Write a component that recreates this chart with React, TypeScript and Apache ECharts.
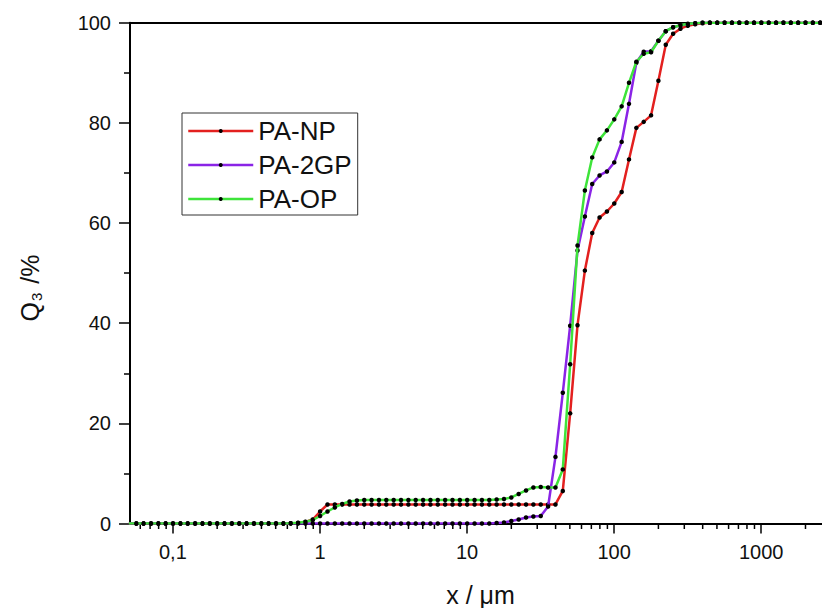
import React, { useEffect, useRef } from 'react';
import * as echarts from 'echarts';

// particle size classes x / µm
const sizes = [
  0.0502, 0.0564, 0.0632, 0.071, 0.0796, 0.0893, 0.1002, 0.1125, 0.1262, 0.1416,
  0.1589, 0.1783, 0.2, 0.2244, 0.2518, 0.2825, 0.317, 0.3557, 0.3991, 0.4477,
  0.5024, 0.5637, 0.6325, 0.7096, 0.7962, 0.8934, 1.002, 1.125, 1.262, 1.416,
  1.589, 1.783, 2.0, 2.244, 2.518, 2.825, 3.17, 3.557, 3.991, 4.477,
  5.024, 5.637, 6.325, 7.096, 7.962, 8.934, 10.02, 11.25, 12.62, 14.16,
  15.89, 17.83, 20.0, 22.44, 25.18, 28.25, 31.7, 35.57, 39.91, 44.77,
  50.24, 56.37, 63.25, 70.96, 79.62, 89.34, 100.2, 112.5, 126.2, 141.6,
  158.9, 178.3, 200.0, 224.4, 251.8, 282.5, 317.0, 355.7, 399.1, 447.7,
  502.4, 563.7, 632.5, 709.6, 796.2, 893.4, 1002, 1125, 1262, 1416,
  1589, 1783, 2000, 2244, 2518, 2825,
];

const paNP = [
  0, 0, 0, 0, 0, 0, 0, 0, 0, 0,
  0, 0, 0, 0, 0, 0, 0, 0, 0, 0,
  0, 0, 0.05, 0.1, 0.3, 0.8, 2.4, 3.8, 3.8, 3.8,
  3.8, 3.8, 3.8, 3.8, 3.8, 3.8, 3.8, 3.8, 3.8, 3.8,
  3.8, 3.8, 3.8, 3.8, 3.8, 3.8, 3.8, 3.8, 3.8, 3.8,
  3.8, 3.8, 3.8, 3.8, 3.8, 3.8, 3.8, 3.8, 3.8, 6.5,
  22.0, 39.6, 50.5, 58.0, 61.1, 62.3, 63.9, 66.2, 72.7, 79.0,
  80.2, 81.5, 88.4, 95.6, 97.8, 98.8, 99.4, 99.7, 99.9, 100,
  100, 100, 100, 100, 100, 100, 100, 100, 100, 100,
  100, 100, 100, 100, 100, 100,
];

const pa2GP = [
  0, 0, 0, 0, 0, 0, 0, 0, 0, 0,
  0, 0, 0, 0, 0, 0, 0, 0, 0, 0,
  0, 0, 0, 0, 0, 0, 0, 0, 0, 0,
  0, 0, 0, 0, 0, 0, 0, 0, 0, 0,
  0, 0, 0, 0, 0, 0, 0, 0, 0, 0,
  0.1, 0.2, 0.5, 0.8, 1.2, 1.4, 1.5, 3.4, 13.3, 26.1,
  39.5, 54.5, 61.3, 67.8, 69.5, 70.3, 72.1, 76.2, 83.8, 92.0,
  94.2, 94.3, 96.4, 98.3, 99.1, 99.5, 99.7, 99.9, 100, 100,
  100, 100, 100, 100, 100, 100, 100, 100, 100, 100,
  100, 100, 100, 100, 100, 100,
];

const paOP = [
  0, 0, 0, 0, 0, 0, 0, 0, 0, 0,
  0, 0, 0, 0, 0, 0, 0, 0, 0, 0,
  0, 0, 0.05, 0.15, 0.35, 0.7, 1.5, 2.4, 3.2, 3.9,
  4.4, 4.6, 4.7, 4.7, 4.7, 4.7, 4.7, 4.7, 4.7, 4.7,
  4.7, 4.7, 4.7, 4.7, 4.7, 4.7, 4.7, 4.7, 4.7, 4.7,
  4.8, 4.9, 5.2, 5.9, 6.6, 7.2, 7.3, 7.2, 7.2, 10.8,
  31.8, 55.5, 66.5, 73.1, 76.7, 78.5, 80.7, 83.3, 88.0, 92.2,
  93.8, 94.1, 96.4, 98.3, 99.1, 99.5, 99.8, 99.9, 100, 100,
  100, 100, 100, 100, 100, 100, 100, 100, 100, 100,
  100, 100, 100, 100, 100, 100,
];

const seriesNames = ['PA-NP', 'PA-2GP', 'PA-OP'];
const seriesColors = ['#e3201f', '#8a24e6', '#3ee43a'];

const xTickValues = [0.1, 1, 10, 100, 1000];
const xTickLabels = ['0,1', '1', '10', '100', '1000'];
const xMinorTicks = [
  0.06, 0.07, 0.08, 0.09,
  0.2, 0.3, 0.4, 0.5, 0.6, 0.7, 0.8, 0.9,
  2, 3, 4, 5, 6, 7, 8, 9,
  20, 30, 40, 50, 60, 70, 80, 90,
  200, 300, 400, 500, 600, 700, 800, 900,
  2000,
];

const X_MIN = 0.0511;
const X_MAX = 2590;
const FONT = 'Liberation Sans, Arial, sans-serif';

export default function App() {
  const ref = useRef<HTMLDivElement>(null);

  useEffect(() => {
    if (!ref.current) return;
    const chart = echarts.init(ref.current, null, { renderer: 'svg' });
    const dataSets = [paNP, pa2GP, paOP];

    const lineSeries = dataSets.map((vals, si) => ({
      name: seriesNames[si],
      type: 'line',
      data: sizes.map((x, i) => [x, vals[i]]),
      symbol: 'circle',
      symbolSize: 4.5,
      showSymbol: true,
      showAllSymbol: true,
      itemStyle: { color: '#000' },
      lineStyle: { color: seriesColors[si], width: 2.5 },
      z: 3 + si,
    }));

    const option: any = {
      animation: false,
      backgroundColor: '#fff',
      grid: { left: 130, right: 0, top: 22.7, bottom: 84.5, containLabel: false, outerBoundsMode: 'none' },
      legend: {
        data: seriesNames.map((n, i) => ({
          name: n,
          lineStyle: { color: seriesColors[i], width: 2.5 },
          itemStyle: { color: '#000' },
        })),
        orient: 'vertical',
        left: 182,
        top: 113,
        itemWidth: 65,
        itemHeight: 5,
        itemGap: 8,
        padding: [5, 6, 3, 5],
        borderColor: '#333',
        borderWidth: 1,
        textStyle: { fontSize: 26, lineHeight: 25, color: '#111', fontFamily: FONT },
      },
      xAxis: [
        {
          type: 'log',
          logBase: 10,
          min: X_MIN,
          max: X_MAX,
          position: 'bottom',
          axisLine: { onZero: false, lineStyle: { color: '#000', width: 2 } },
          axisTick: { length: 10, lineStyle: { color: '#000', width: 1.5 } },
          axisLabel: {
            showMinLabel: false,
            showMaxLabel: false,
            fontSize: 20,
            color: '#111',
            fontFamily: FONT,
            margin: 18,
            formatter: (v: number) => {
              const idx = xTickValues.findIndex(
                (t) => Math.abs(Math.log10(v) - Math.log10(t)) < 1e-6
              );
              return idx >= 0 ? xTickLabels[idx] : '';
            },
          },
          splitLine: { show: false },
          minorTick: { show: false },
          name: 'x / μm',
          nameLocation: 'middle',
          nameGap: 59,
          nameTextStyle: { fontSize: 25, color: '#111', fontFamily: FONT, padding: [0, 0, 0, 9] },
        },
        {
          type: 'log',
          logBase: 10,
          min: X_MIN,
          max: X_MAX,
          position: 'top',
          axisLine: { onZero: false, lineStyle: { color: '#000', width: 2 } },
          axisTick: { show: false },
          axisLabel: { show: false },
          splitLine: { show: false },
        },
      ],
      yAxis: {
        type: 'value',
        min: 0,
        max: 100,
        interval: 20,
        axisLine: { show: true, lineStyle: { color: '#000', width: 2 } },
        axisTick: { show: true, length: 11, lineStyle: { color: '#000', width: 1.5 } },
        minorTick: { show: true, splitNumber: 2, length: 6, lineStyle: { color: '#000', width: 1.5 } },
        axisLabel: { fontSize: 20, color: '#111', fontFamily: FONT, margin: 19 },
        splitLine: { show: false },
        name: '{q|Q}{s|3}{q| /%}',
        nameLocation: 'middle',
        nameGap: 86,
        nameTextStyle: {
          color: '#111',
          fontFamily: FONT,
          padding: [0, 30, 0, 0],
          rich: {
            q: { fontSize: 25, color: '#111', fontFamily: FONT },
            s: { fontSize: 15, color: '#111', fontFamily: FONT, padding: [14, 2, 0, 1] },
          },
        },
      },
      series: [
        ...lineSeries,
        {
          type: 'custom',
          name: 'minorTicks',
          xAxisIndex: 0,
          yAxisIndex: 0,
          clip: false,
          silent: true,
          data: xMinorTicks.map((v) => [v, 0]),
          renderItem: (params: any, api: any) => {
            const p = api.coord([api.value(0), 0]);
            return {
              type: 'line',
              shape: { x1: p[0], y1: p[1], x2: p[0], y2: p[1] + 5.5 },
              style: { stroke: '#000', lineWidth: 1.5 },
            };
          },
          z: 1,
        },
      ],
    };

    chart.setOption(option);
    return () => chart.dispose();
  }, []);

  return (
    <div
      ref={ref}
      style={{ position: 'absolute', left: 0, top: 0, width: 822, height: 608, background: '#fff' }}
    />
  );
}
